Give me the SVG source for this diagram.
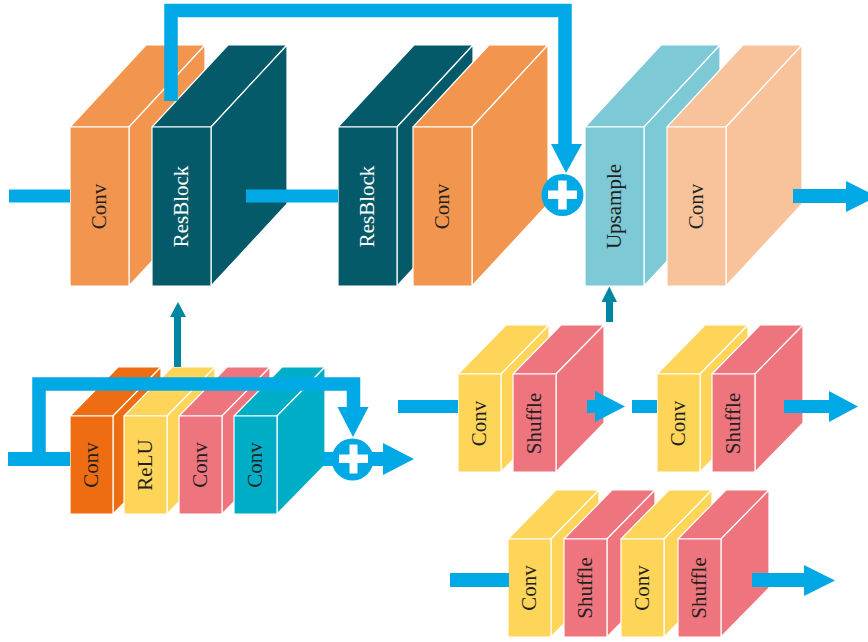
<svg xmlns="http://www.w3.org/2000/svg" xmlns:xlink="http://www.w3.org/1999/xlink" width="868" height="642" viewBox="0 0 868 642">
  <defs>
    <style>
      .box { stroke: #ffffff; stroke-width: 1.2; stroke-linejoin: round; }
      .conv-orange { fill: #F2964F; }
      .resblock { fill: #045A69; }
      .upsample { fill: #7DC9D6; }
      .conv-peach { fill: #F8C29B; }
      .conv-dark { fill: #EE6D13; }
      .yellow { fill: #FED558; }
      .pink { fill: #EE757E; }
      .teal { fill: #00ADC6; }
      .lbl { font-family: "Liberation Serif", "DejaVu Serif", serif; font-size: 21px; text-anchor: middle; fill: #231F20; }
      .lbl-light { fill: #ffffff; }
      .flow { fill: #00A9E5; }
      .flow-line { fill: none; stroke: #00A9E5; stroke-width: 13.5; stroke-linejoin: miter; stroke-linecap: butt; }
      .up { fill: #0086A3; }
      .plus { fill: #ffffff; }
    </style>
    <!-- large block: front 59x159, depth offset (76,-82) -->
    <g id="bigbox">
      <polygon points="0,0 76,-82 135,-82 59,0"/>
      <polygon points="59,0 135,-82 135,77 59,159"/>
      <rect x="0" y="0" width="59" height="159"/>
    </g>
    <!-- small block: front 43x98, depth offset (48,-49) -->
    <g id="smallbox">
      <polygon points="0,0 48,-49 91,-49 43,0"/>
      <polygon points="43,0 91,-49 91,49 43,98"/>
      <rect x="0" y="0" width="43" height="98"/>
    </g>
  </defs>

  <rect x="0" y="0" width="868" height="642" fill="#ffffff"/>

  <!-- main pipeline -->
  <g id="conv-in">
    <use xlink:href="#bigbox" href="#bigbox" x="70" y="127" class="box conv-orange"/>
    <text class="lbl" transform="translate(99.5,206.5) rotate(-90)" dy="0.33em">Conv</text>
  </g>
  <g id="resblock-1">
    <use xlink:href="#bigbox" href="#bigbox" x="152" y="127" class="box resblock"/>
    <text class="lbl lbl-light" transform="translate(181.5,206.5) rotate(-90)" dy="0.33em">ResBlock</text>
  </g>
  <g id="resblock-n">
    <use xlink:href="#bigbox" href="#bigbox" x="338" y="127" class="box resblock"/>
    <text class="lbl lbl-light" transform="translate(367.5,206.5) rotate(-90)" dy="0.33em">ResBlock</text>
  </g>
  <g id="conv-mid">
    <use xlink:href="#bigbox" href="#bigbox" x="413" y="127" class="box conv-orange"/>
    <text class="lbl" transform="translate(442.5,206.5) rotate(-90)" dy="0.33em">Conv</text>
  </g>
  <g id="upsample">
    <use xlink:href="#bigbox" href="#bigbox" x="585" y="127" class="box upsample"/>
    <text class="lbl" transform="translate(614.5,206.5) rotate(-90)" dy="0.33em">Upsample</text>
  </g>
  <g id="conv-out">
    <use xlink:href="#bigbox" href="#bigbox" x="667" y="127" class="box conv-peach"/>
    <text class="lbl" transform="translate(696.5,206.5) rotate(-90)" dy="0.33em">Conv</text>
  </g>

  <!-- residual block detail -->
  <g id="rb-conv1">
    <use xlink:href="#smallbox" href="#smallbox" x="70" y="416" class="box conv-dark"/>
    <text class="lbl" transform="translate(91.5,465) rotate(-90)" dy="0.33em">Conv</text>
  </g>
  <g id="rb-relu">
    <use xlink:href="#smallbox" href="#smallbox" x="124" y="416" class="box yellow"/>
    <text class="lbl" transform="translate(145.5,465) rotate(-90)" dy="0.33em">ReLU</text>
  </g>
  <g id="rb-conv2">
    <use xlink:href="#smallbox" href="#smallbox" x="179" y="416" class="box pink"/>
    <text class="lbl" transform="translate(200.5,465) rotate(-90)" dy="0.33em">Conv</text>
  </g>
  <g id="rb-conv3">
    <use xlink:href="#smallbox" href="#smallbox" x="234" y="416" class="box teal"/>
    <text class="lbl" transform="translate(255.5,465) rotate(-90)" dy="0.33em">Conv</text>
  </g>

  <!-- upsample x2 stages -->
  <g id="up-conv-a">
    <use xlink:href="#smallbox" href="#smallbox" x="458" y="374" class="box yellow"/>
    <text class="lbl" transform="translate(479.5,423.5) rotate(-90)" dy="0.33em">Conv</text>
  </g>
  <g id="up-shuffle-a">
    <use xlink:href="#smallbox" href="#smallbox" x="513" y="374" class="box pink"/>
    <text class="lbl" transform="translate(534.5,423.5) rotate(-90)" dy="0.33em">Shuffle</text>
  </g>
  <g id="up-conv-b">
    <use xlink:href="#smallbox" href="#smallbox" x="657" y="374" class="box yellow"/>
    <text class="lbl" transform="translate(678.5,423.5) rotate(-90)" dy="0.33em">Conv</text>
  </g>
  <g id="up-shuffle-b">
    <use xlink:href="#smallbox" href="#smallbox" x="712" y="374" class="box pink"/>
    <text class="lbl" transform="translate(733.5,423.5) rotate(-90)" dy="0.33em">Shuffle</text>
  </g>

  <!-- upsample x4 stages -->
  <g id="up4-conv-a">
    <use xlink:href="#smallbox" href="#smallbox" x="508" y="539" class="box yellow"/>
    <text class="lbl" transform="translate(529.5,588) rotate(-90)" dy="0.33em">Conv</text>
  </g>
  <g id="up4-shuffle-a">
    <use xlink:href="#smallbox" href="#smallbox" x="564" y="539" class="box pink"/>
    <text class="lbl" transform="translate(585.5,588) rotate(-90)" dy="0.33em">Shuffle</text>
  </g>
  <g id="up4-conv-b">
    <use xlink:href="#smallbox" href="#smallbox" x="621" y="539" class="box yellow"/>
    <text class="lbl" transform="translate(642.5,588) rotate(-90)" dy="0.33em">Conv</text>
  </g>
  <g id="up4-shuffle-b">
    <use xlink:href="#smallbox" href="#smallbox" x="678" y="539" class="box pink"/>
    <text class="lbl" transform="translate(699.5,588) rotate(-90)" dy="0.33em">Shuffle</text>
  </g>

  <!-- connectors -->
  <g id="connectors">
    <!-- main pipeline -->
    <rect class="flow" x="9" y="189.5" width="61" height="13"/>
    <rect class="flow" x="246" y="189.5" width="92" height="13"/>
    <path class="flow-line" d="M171,101 V10.5 H565 V145"/>
    <polygon class="flow" points="551,144 582,144 566,173"/>
    <circle class="flow" cx="562.5" cy="195" r="21"/>
    <rect class="plus" x="548" y="190.5" width="29" height="8.5"/>
    <rect class="plus" x="558.2" y="180.5" width="8.5" height="29"/>
    <rect class="flow" x="793" y="189" width="54" height="14"/>
    <polygon class="flow" points="846,181 846,212 877,196.5"/>
    <rect class="up" x="606" y="301" width="7" height="21"/>
    <polygon class="up" points="601.5,302 617,302 609.3,286.5"/>

    <!-- residual block -->
    <rect class="up" x="174" y="315" width="7" height="52"/>
    <polygon class="up" points="170,317 186,317 178,302"/>
    <rect class="flow" x="8" y="452" width="62" height="14"/>
    <path class="flow-line" d="M39,459 V384 H353.5 V408"/>
    <polygon class="flow" points="337.5,407 368.5,407 353,437"/>
    <rect class="flow" x="322" y="452" width="20" height="14"/>
    <circle class="flow" cx="352.5" cy="459.5" r="21"/>
    <rect class="flow" x="370" y="452" width="14" height="14"/>
    <polygon class="flow" points="383,443 383,475 414,459"/>
    <rect class="plus" x="339" y="454.5" width="29" height="8.5"/>
    <rect class="plus" x="349.5" y="444.5" width="8" height="29"/>

    <!-- upsample x2 -->
    <rect class="flow" x="398" y="400" width="60" height="13"/>
    <rect class="flow" x="587" y="400" width="9" height="13"/>
    <polygon class="flow" points="595,391 595,422 625,406.5"/>
    <rect class="flow" x="632" y="400" width="25" height="13"/>
    <rect class="flow" x="784" y="400" width="46" height="13"/>
    <polygon class="flow" points="829,391 829,422 858,406.5"/>

    <!-- upsample x4 -->
    <rect class="flow" x="450" y="573" width="59" height="14"/>
    <rect class="flow" x="752" y="573" width="53" height="14"/>
    <polygon class="flow" points="804,565 804,596 835,580.5"/>
  </g>
</svg>
